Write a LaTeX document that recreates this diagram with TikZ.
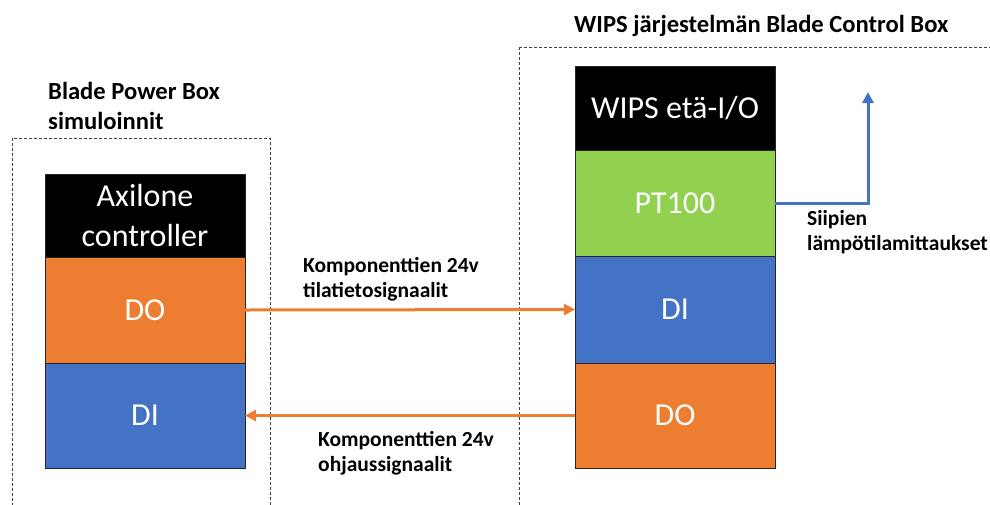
\documentclass[tikz,border=0pt]{standalone}
\usepackage{fontspec}
\setmainfont{Carlito}
\usetikzlibrary{positioning}
\usetikzlibrary{arrows.meta}

\definecolor{boxorange}{HTML}{ED7D31}
\definecolor{boxblue}{HTML}{4472C4}
\definecolor{boxgreen}{HTML}{92D050}

\tikzset{
  blk/.style={draw=black!85, line width=1pt, minimum width=200pt, outer sep=0pt,
    text=white, align=center, font=\fontsize{32}{40}\selectfont},
  frame/.style={draw=black!75, line width=0.8pt, dash pattern=on 3pt off 2pt},
  lbl/.style={align=left, inner sep=0pt, font=\bfseries\fontsize{21.5}{25}\selectfont},
  title/.style={lbl, font=\bfseries\fontsize{24.6}{30}\selectfont},
  sig/.style={line width=3pt, -{Triangle[length=11pt,width=11pt]}},
}

\begin{document}
\begin{tikzpicture}[x=1pt,y=-1pt]
\useasboundingbox (0,0) rectangle (990,504);
\clip (0,0) rectangle (990,504);
%frames
\draw[frame] (12,138) rectangle (270,520);
\draw[frame] (519,47) rectangle (1000,520);
%left stack
\node[blk, fill=black, minimum height=83pt] (axil) at (145,215.5) {Axilone\\controller};
\node[blk, fill=boxorange, minimum height=106pt, below=0pt of axil] (ldo) {DO};
\node[blk, fill=boxblue, minimum height=105pt, below=0pt of ldo] (ldi) {DI};
%right stack
\node[blk, fill=black, minimum height=84pt] (wips) at (675,108) {WIPS etä-I/O};
\node[blk, fill=boxgreen, minimum height=106pt, below=0pt of wips] (pt) {PT100};
\node[blk, fill=boxblue, minimum height=107pt, below=0pt of pt] (rdi) {DI};
\node[blk, fill=boxorange, minimum height=105pt, below=0pt of rdi] (rdo) {DO};
%titles
\node[title, anchor=north west] (bpb) at (48,82) {Blade Power Box\\simuloinnit};
\node[title, anchor=north west] (bcb) at (574,15) {WIPS järjestelmän Blade Control Box};
%signals
\draw[sig, boxorange] (ldo.east) -- (rdi.west);
\draw[sig, boxorange] (rdo.west) -- (ldi.east |- rdo.west);
\coordinate (tip) at (868,92);
\draw[sig, boxblue] (pt.east) -| (tip);
\node[lbl, anchor=north west] (st) at (303,257) {Komponenttien 24v\\tilatietosignaalit};
\node[lbl, anchor=north west] (oh) at (318,431) {Komponenttien 24v\\ohjaussignaalit};
\node[lbl, anchor=north west] (temp) at (807,210) {Siipien\\lämpötilamittaukset};
\end{tikzpicture}
\end{document}
